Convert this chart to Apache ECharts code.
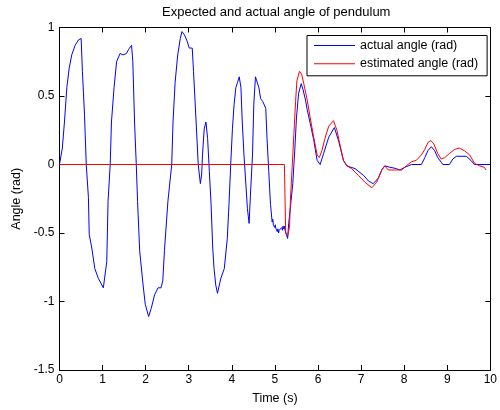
<!DOCTYPE html>
<html>
<head>
<meta charset="utf-8">
<script src="https://cdn.jsdelivr.net/npm/echarts@6/dist/echarts.min.js"></script>
<style>
html,body{margin:0;padding:0;background:#fff;}
#chart{width:500px;height:410px;}
</style>
</head>
<body>
<div id="chart"></div>
<script>
// ---- data ----
var chartTitle = 'Expected and actual angle of pendulum';
var xAxisName = 'Time (s)';
var yAxisName = 'Angle (rad)';
var seriesNames = ['actual angle (rad)', 'estimated angle (rad)'];
var xTicks = [0, 1, 2, 3, 4, 5, 6, 7, 8, 9, 10];
var yTicks = [-1.5, -1, -0.5, 0, 0.5, 1];

var actualTime = [
  0, 0.066, 0.115, 0.17, 0.224, 0.284, 0.363, 0.443, 0.502, 0.532, 0.581, 0.621, 0.671, 0.69, 0.75, 0.82, 0.90, 1.018, 1.058, 1.097, 1.127, 1.177,
  1.206, 1.266, 1.325, 1.405, 1.474, 1.554, 1.603, 1.673, 1.702, 1.742, 1.782, 1.812, 1.861, 1.94, 1.99, 2.069, 2.129, 2.208, 2.288, 2.357, 2.397, 2.436, 2.516, 2.605,
  2.635, 2.684, 2.744, 2.804, 2.843, 2.903, 2.962, 3.012, 3.081, 3.111, 3.171, 3.22, 3.27, 3.30, 3.319, 3.359, 3.399, 3.438, 3.478, 3.518, 3.557, 3.587, 3.627, 3.667, 3.706, 3.746, 3.825, 3.865, 3.895, 3.934, 3.974,
  4.014, 4.053, 4.093, 4.133, 4.172, 4.212, 4.242, 4.282, 4.321, 4.361, 4.401, 4.44, 4.48, 4.51, 4.549, 4.589, 4.629, 4.668, 4.718, 4.788, 4.817, 4.857, 4.897, 4.936,
  4.95, 4.965, 4.98, 4.995, 5.01, 5.025, 5.04, 5.055, 5.07, 5.085, 5.10, 5.115, 5.13, 5.145, 5.16, 5.175, 5.19, 5.205, 5.22, 5.235, 5.25, 5.265, 5.28, 5.295, 5.32, 5.36, 5.415,
  5.46, 5.50, 5.55, 5.61, 5.65, 5.71, 5.75, 5.82, 5.90, 5.98, 6.05, 6.13, 6.25, 6.38, 6.48, 6.59, 6.67, 6.86, 7.06, 7.17, 7.28, 7.40, 7.48, 7.55, 7.67, 7.82, 7.90, 8.02, 8.17,
  8.40, 8.48, 8.55, 8.63, 8.71, 8.78, 8.90, 9.05, 9.13, 9.21, 9.44, 9.55, 9.63, 10
];
var actualAngle = [
  0, 0.12, 0.31, 0.56, 0.70, 0.80, 0.87, 0.91, 0.92, 0.68, 0.36, 0.0, -0.24, -0.51, -0.61, -0.76, -0.83, -0.90, -0.91, -0.71, -0.27, 0.0,
  0.31, 0.56, 0.75, 0.81, 0.80, 0.81, 0.84, 0.87, 0.75, 0.31, 0.0, -0.27, -0.63, -0.88, -1.02, -1.11, -1.05, -0.95, -0.90, -0.90, -0.85, -0.63, -0.27, 0.0,
  0.31, 0.60, 0.80, 0.92, 0.97, 0.945, 0.90, 0.85, 0.85, 0.68, 0.31, 0.0, -0.14, -0.07, 0.07, 0.26, 0.31, 0.19, -0.05, -0.29, -0.61, -0.76, -0.88, -0.94, -0.93, -0.83, -0.76, -0.76, -0.54, -0.29, 0.0,
  0.26, 0.44, 0.56, 0.60, 0.64, 0.56, 0.31, 0.07, -0.12, -0.32, -0.43, -0.17, 0.07, 0.44, 0.64, 0.64, 0.56, 0.48, 0.46, 0.41, 0.19, -0.05, -0.29, -0.42,
  -0.40, -0.44, -0.43, -0.46, -0.44, -0.47, -0.46, -0.49, -0.47, -0.50, -0.48, -0.49, -0.47, -0.49, -0.46, -0.48, -0.45, -0.47, -0.45, -0.48, -0.47, -0.51, -0.50, -0.54, -0.43, -0.31, -0.14,
  0.10, 0.34, 0.52, 0.59, 0.55, 0.47, 0.40, 0.30, 0.18, 0.03, 0.0, 0.08, 0.20, 0.27, 0.17, 0.03, -0.01, -0.03, -0.08, -0.12, -0.14, -0.10, -0.04, -0.01, -0.02, -0.03, -0.04, -0.02, 0.0,
  0.0, 0.05, 0.10, 0.13, 0.10, 0.05, 0.0, 0.0, 0.04, 0.06, 0.06, 0.03, 0.0, 0.0
];

var estTime = [
  0, 5.22, 5.25, 5.30, 5.34, 5.36, 5.40, 5.44, 5.48, 5.51, 5.57, 5.62, 5.67, 5.75, 5.82, 5.90, 5.98, 6.03, 6.09, 6.17, 6.25, 6.36, 6.44, 6.52, 6.59, 6.67, 6.78, 6.94,
  7.09, 7.25, 7.36, 7.48, 7.55, 7.63, 7.78, 7.94, 8.09, 8.17, 8.28, 8.40, 8.48, 8.55, 8.62, 8.69, 8.78, 8.86, 8.94, 9.05, 9.17, 9.28, 9.40, 9.52, 9.63, 9.75, 9.86, 9.90
];
var estAngle = [
  0, 0, -0.50, -0.52, -0.45, -0.26, -0.02, 0.22, 0.46, 0.61, 0.68, 0.66, 0.59, 0.47, 0.34, 0.20, 0.07, 0.05, 0.10, 0.20, 0.28, 0.32, 0.25, 0.13, 0.03, -0.01, -0.03, -0.08,
  -0.13, -0.17, -0.13, -0.04, -0.01, -0.04, -0.04, -0.04, 0.0, 0.02, 0.03, 0.07, 0.11, 0.16, 0.175, 0.15, 0.08, 0.04, 0.05, 0.08, 0.11, 0.12, 0.10, 0.07, 0.01, -0.01, -0.02, -0.04
];

// ---- build ----
function pairs(xs, ys) { return xs.map(function (x, i) { return [x, ys[i]]; }); }
var FONT = 'Liberation Sans, Arial, sans-serif';
var chart = echarts.init(document.getElementById('chart'), null, {renderer: 'canvas'});
var gridL = 59.5, gridT = 27.5, gridW = 433.5, gridH = 342.5;

var baseX = {
  type: 'value', min: xTicks[0], max: xTicks[xTicks.length - 1], interval: xTicks[1] - xTicks[0],
  axisLine: {show: true, onZero: false, lineStyle: {color: '#000', width: 1}},
  axisTick: {show: true, inside: true, length: 5, lineStyle: {color: '#000'}},
  splitLine: {show: false}
};
var baseY = {
  type: 'value', min: yTicks[0], max: yTicks[yTicks.length - 1], interval: yTicks[1] - yTicks[0],
  axisLine: {show: true, onZero: false, lineStyle: {color: '#000', width: 1}},
  axisTick: {show: true, inside: true, length: 5, lineStyle: {color: '#000'}},
  splitLine: {show: false}
};

var option = {
  backgroundColor: '#fff',
  animation: false,
  grid: {left: gridL, top: gridT, width: gridW, height: gridH, containLabel: false},
  graphic: [{
    type: 'text', x: gridL + gridW / 2, y: 12,
    style: {text: chartTitle, textAlign: 'center', textVerticalAlign: 'middle',
      font: '13px ' + FONT, fill: '#000'}
  }],
  legend: {
    orient: 'vertical', left: 307, top: 35.5,
    padding: [3, 9, 5, 7], itemGap: 4.3, itemWidth: 41, itemHeight: 1,
    icon: 'rect',
    backgroundColor: '#fff', borderColor: '#000', borderWidth: 1, borderRadius: 0,
    textStyle: {fontFamily: FONT, fontSize: 12.5, color: '#000', lineHeight: 14, height: 14},
    data: seriesNames
  },
  xAxis: [
    Object.assign({}, baseX, {
      position: 'bottom', name: xAxisName, nameLocation: 'middle', nameGap: 22,
      nameTextStyle: {fontFamily: FONT, fontSize: 12.5, color: '#000'},
      axisLabel: {show: true, margin: 4, fontFamily: FONT, fontSize: 12, color: '#000'}
    }),
    Object.assign({}, baseX, {position: 'top', axisLabel: {show: false}})
  ],
  yAxis: [
    Object.assign({}, baseY, {
      position: 'left', name: yAxisName, nameLocation: 'middle', nameGap: 35,
      nameTextStyle: {fontFamily: FONT, fontSize: 12.5, color: '#000'},
      axisLabel: {show: true, margin: 5, fontFamily: FONT, fontSize: 12, color: '#000'}
    }),
    Object.assign({}, baseY, {position: 'right', axisLabel: {show: false}})
  ],
  series: [
    {
      name: seriesNames[0], type: 'line', xAxisIndex: 0, yAxisIndex: 0,
      data: pairs(actualTime, actualAngle), symbol: 'none', smooth: false,
      lineStyle: {color: '#0000ff', width: 1}, itemStyle: {color: '#0000ff'}, z: 2
    },
    {
      name: seriesNames[1], type: 'line', xAxisIndex: 0, yAxisIndex: 0,
      data: pairs(estTime, estAngle), symbol: 'none', smooth: false,
      lineStyle: {color: '#ff0000', width: 1}, itemStyle: {color: '#ff0000'}, z: 3
    }
  ]
};
chart.setOption(option);
</script>
</body>
</html>
